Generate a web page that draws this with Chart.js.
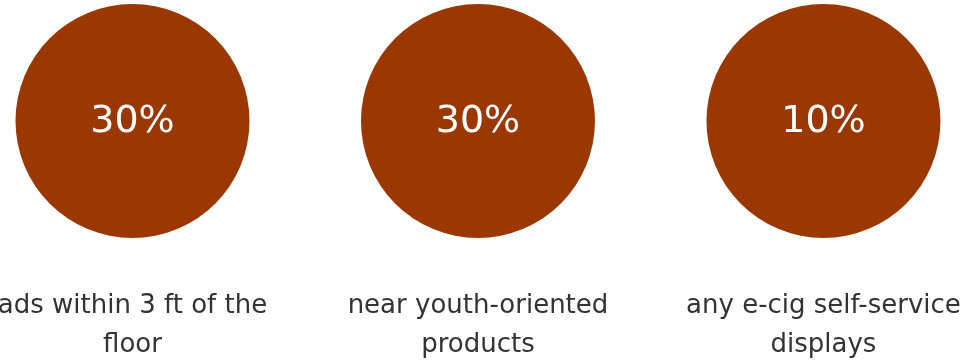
<!DOCTYPE html>
<html>
<head>
<meta charset="utf-8">
<script src="https://cdn.jsdelivr.net/npm/chart.js@4"></script>
<style>
  html, body { margin: 0; padding: 0; background: #ffffff; }
  canvas { display: block; }
</style>
</head>
<body>
<canvas id="c" width="967" height="361"></canvas>
<script>
// Share of stores with each type of placement
const categories = [
  ["ads within 3 ft of the", "floor"],
  ["near youth-oriented", "products"],
  ["any e-cig self-service", "displays"]
];
const values = [30, 30, 10];

const circleColor = "#9b3700";

// Writes the percentage inside each circle and the caption beneath it
const circleLabels = {
  id: "circleLabels",
  afterDatasetsDraw(chart) {
    const ctx = chart.ctx;
    const meta = chart.getDatasetMeta(0);
    const area = chart.chartArea;
    ctx.save();
    ctx.textAlign = "center";
    meta.data.forEach((pt, i) => {
      ctx.fillStyle = "#ffffff";
      ctx.font = "38px 'DejaVu Sans'";
      ctx.textBaseline = "middle";
      ctx.fillText(values[i] + "%", pt.x, pt.y + 1);

      ctx.fillStyle = "#333333";
      ctx.font = "26px 'DejaVu Sans'";
      ctx.textBaseline = "alphabetic";
      categories[i].forEach((line, j) => {
        ctx.fillText(line, pt.x, area.bottom + 71 + j * 39);
      });
    });
    ctx.restore();
  }
};

new Chart(document.getElementById("c"), {
  type: "scatter",
  data: {
    datasets: [{
      data: values.map((v, i) => ({ x: i, y: 0 })),
      backgroundColor: circleColor,
      borderColor: circleColor,
      borderWidth: 0,
      pointRadius: 117,
      pointHoverRadius: 117,
      clip: false
    }]
  },
  options: {
    responsive: false,
    animation: false,
    events: [],
    layout: { autoPadding: false, padding: { left: 0, right: 0, top: 0, bottom: 119 } },
    plugins: { legend: { display: false }, tooltip: { enabled: false } },
    scales: {
      x: { type: "linear", min: -0.3835, max: 2.4155, display: false },
      y: { type: "linear", min: -1, max: 1, display: false }
    }
  },
  plugins: [circleLabels]
});
</script>
</body>
</html>
